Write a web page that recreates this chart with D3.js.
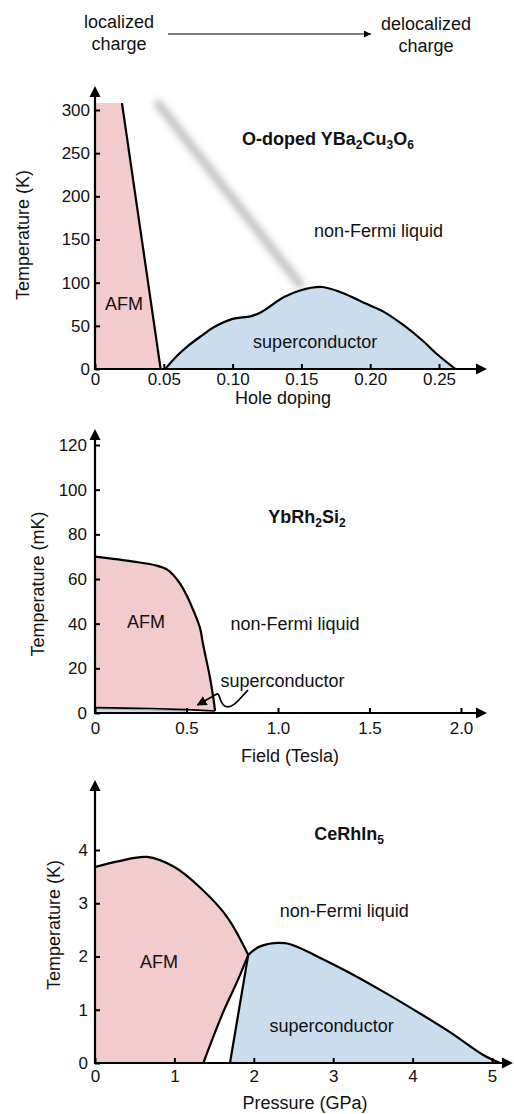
<!DOCTYPE html>
<html>
<head>
<meta charset="utf-8">
<script src="https://cdn.jsdelivr.net/npm/d3@7"></script>
<style>
  html, body { margin: 0; padding: 0; background: #fff; }
  svg { display: block; }
  text { font-family: "Liberation Sans", Arial, Helvetica, sans-serif; fill: #111; }
</style>
</head>
<body>
<svg id="chart" width="514" height="1114"></svg>
<script>
// ---------- data ----------
// Panel A: O-doped YBa2Cu3O6 (hole doping vs temperature, K)
const ybcoXTicks = [0, 0.05, 0.10, 0.15, 0.20, 0.25];
const ybcoXTickLabels = ["0", "0.05", "0.10", "0.15", "0.20", "0.25"];
const ybcoYTicks = [0, 50, 100, 150, 200, 250, 300];
const ybcoAfmTop = 308;
const ybcoAfmEdge = [[0.0196, 308], [0.0477, 0]];
const ybcoScDome = [
  [0.051, 0], [0.060, 16], [0.067, 26], [0.077, 38], [0.086, 48], [0.100, 58],
  [0.113, 61], [0.121, 66], [0.137, 83], [0.149, 91], [0.165, 95], [0.180, 88],
  [0.195, 77], [0.209, 67], [0.224, 51], [0.238, 33], [0.248, 18], [0.262, 0]
];
const ybcoCrossover = [[0.046, 307], [0.149, 98]];

// Panel B: YbRh2Si2 (field vs temperature, mK)
const ybrsXTicks = [0, 0.5, 1.0, 1.5, 2.0];
const ybrsXTickLabels = ["0", "0.5", "1.0", "1.5", "2.0"];
const ybrsYTicks = [0, 20, 40, 60, 80, 100, 120];
const ybrsAfmEdge = [
  [0, 70], [0.21, 67.8], [0.337, 66], [0.393, 64.3], [0.428, 61.8], [0.464, 58],
  [0.50, 52.8], [0.537, 46], [0.574, 38], [0.59, 31], [0.628, 16], [0.648, 6], [0.656, 0.9]
];
const ybrsScEdge = [[0, 2.4], [0.3, 2.0], [0.5, 1.5], [0.656, 0.9]];
const ybrsScFill = [[0, 1.9], [0.25, 1.5], [0.49, 1.0]];
// curly pointer: start, two cubic segments (control, control, end), then arrow tip
const ybrsPointerStart = [0.836, 10.2];
const ybrsPointerCurl = [
  [[0.79, 6.5], [0.76, 2.4], [0.72, 2.8]],
  [[0.68, 3.2], [0.685, 8.8], [0.668, 8.6]]
];
const ybrsPointerTip = [0.56, 3.6];

// Panel C: CeRhIn5 (pressure vs temperature, K)
const cerhXTicks = [0, 1, 2, 3, 4, 5];
const cerhXTickLabels = ["0", "1", "2", "3", "4", "5"];
const cerhYTicks = [0, 1, 2, 3, 4];
const cerhAfmTop = [
  [0, 3.68], [0.3, 3.79], [0.655, 3.87], [1.0, 3.68], [1.32, 3.3], [1.66, 2.75], [1.93, 2.03]
];
const cerhAfmLower = [[1.93, 2.03], [1.80, 1.56], [1.61, 0.94], [1.364, 0]];
const cerhScLeft = [[1.70, 0], [1.93, 2.03]];
const cerhScDome = [
  [1.93, 2.03], [2.08, 2.19], [2.39, 2.25], [2.58, 2.16], [2.80, 2.0], [3.21, 1.69],
  [3.63, 1.34], [4.06, 0.96], [4.47, 0.58], [4.89, 0.15], [5.10, 0]
];

// ---------- styling ----------
const PINK = "#f2cbcd";
const BLUE = "#c9ddef";
const INK = "#000";
const LW = 2.2;
const FS = 18;

const svg = d3.select("#chart");

// arrow markers
const defs = svg.append("defs");
defs.append("marker").attr("id", "headSmall")
  .attr("viewBox", "0 0 10 10").attr("refX", 10).attr("refY", 5)
  .attr("markerWidth", 7).attr("markerHeight", 7).attr("markerUnits", "userSpaceOnUse")
  .attr("orient", "auto")
  .append("path").attr("d", "M0,0 L10,5 L0,10 Z").attr("fill", INK);
defs.append("marker").attr("id", "headPointer")
  .attr("viewBox", "0 0 10 10").attr("refX", 9).attr("refY", 5)
  .attr("markerWidth", 10).attr("markerHeight", 10).attr("markerUnits", "userSpaceOnUse")
  .attr("orient", "auto")
  .append("path").attr("d", "M0,0 L10,5 L0,10 Z").attr("fill", INK);
defs.append("filter").attr("id", "soft").attr("x", "-30%").attr("y", "-30%")
  .attr("width", "160%").attr("height", "160%")
  .append("feGaussianBlur").attr("stdDeviation", 3.6);

const smooth = d3.curveCatmullRom.alpha(0.5);

// ---------- header ----------
const header = svg.append("g");
header.append("text").attr("x", 119).attr("y", 28).attr("text-anchor", "middle")
  .attr("font-size", FS).text("localized");
header.append("text").attr("x", 119).attr("y", 50).attr("text-anchor", "middle")
  .attr("font-size", FS).text("charge");
header.append("text").attr("x", 426).attr("y", 30).attr("text-anchor", "middle")
  .attr("font-size", FS).text("delocalized");
header.append("text").attr("x", 426).attr("y", 52).attr("text-anchor", "middle")
  .attr("font-size", FS).text("charge");
header.append("line").attr("x1", 168).attr("y1", 34).attr("x2", 371).attr("y2", 34)
  .attr("stroke", INK).attr("stroke-width", 1.2).attr("marker-end", "url(#headSmall)");

// ---------- shared axis drawing ----------
function drawAxes(g, x, y, o) {
  const xAxis = d3.axisBottom(x).tickValues(o.xTicks)
    .tickFormat((d, i) => o.xLabels[i]).tickSize(-5).tickPadding(o.xPad);
  const gx = g.append("g").attr("transform", `translate(0,${y(0)})`).call(xAxis);
  const yAxis = d3.axisLeft(y).tickValues(o.yTicks).tickFormat(d3.format("d"))
    .tickSize(-5).tickPadding(o.yPad);
  const gy = g.append("g").attr("transform", `translate(${x(0)},0)`).call(yAxis);
  [gx, gy].forEach(a => {
    a.select(".domain").remove();
    a.selectAll(".tick line").attr("stroke", INK).attr("stroke-width", 2);
    a.selectAll(".tick text").attr("font-size", 17).attr("fill", "#111")
      .style("font-family", '"Liberation Sans", Arial, Helvetica, sans-serif');
  });
  // axis lines ending in filled arrowheads
  const ax = g.append("g");
  ax.append("line").attr("x1", x(0) - 1).attr("y1", y(0)).attr("x2", o.xTip - 10).attr("y2", y(0))
    .attr("stroke", INK).attr("stroke-width", LW);
  ax.append("path")
    .attr("d", `M${o.xTip},${y(0)} L${o.xTip - 11},${y(0) - 5.5} L${o.xTip - 11},${y(0) + 5.5} Z`)
    .attr("fill", INK);
  ax.append("line").attr("x1", x(0)).attr("y1", y(0) + 1).attr("x2", x(0)).attr("y2", o.yTip + 10)
    .attr("stroke", INK).attr("stroke-width", LW);
  ax.append("path")
    .attr("d", `M${x(0)},${o.yTip} L${x(0) - 5.5},${o.yTip + 11} L${x(0) + 5.5},${o.yTip + 11} Z`)
    .attr("fill", INK);
  // axis titles
  g.append("text").attr("x", o.xTitle[0]).attr("y", o.xTitle[1]).attr("text-anchor", "middle")
    .attr("font-size", FS).text(o.xTitleText);
  g.append("text").attr("transform", `translate(${o.yTitle[0]},${o.yTitle[1]}) rotate(-90)`)
    .attr("text-anchor", "middle").attr("dy", "0.35em").attr("font-size", FS).text(o.yTitleText);
}

// bold chemical formula; parts flagged true are set as subscripts
function formula(g, xPos, yPos, parts) {
  const t = g.append("text").attr("x", xPos).attr("y", yPos).attr("text-anchor", "middle")
    .attr("font-size", FS).attr("font-weight", "bold");
  let shift = 0;
  parts.forEach(([s, sub]) => {
    const span = t.append("tspan").text(s);
    if (sub) {
      span.attr("font-size", 12).attr("dy", 4 - shift);
      shift = 4;
    } else {
      span.attr("dy", -shift);
      shift = 0;
    }
  });
}

// ---------- Panel A ----------
{
  const g = svg.append("g");
  const x = d3.scaleLinear().domain([0, 0.25]).range([95, 439]);
  const y = d3.scaleLinear().domain([0, 300]).range([369, 110]);
  const lin = d3.line().x(d => x(d[0])).y(d => y(d[1]));

  // AFM region
  const afmPoly = [[0, 0], [0, ybcoAfmTop], ...ybcoAfmEdge];
  g.append("path").attr("d", lin(afmPoly) + "Z").attr("fill", PINK);

  // crossover band
  g.append("path").attr("d", lin(ybcoCrossover))
    .attr("stroke", "#bdbdbd").attr("stroke-width", 8).attr("stroke-linecap", "round")
    .attr("fill", "none").attr("filter", "url(#soft)");

  // superconducting dome
  const dome = d3.line().x(d => x(d[0])).y(d => y(d[1])).curve(smooth);
  g.append("path").attr("d", dome(ybcoScDome) + "Z").attr("fill", BLUE);
  g.append("path").attr("d", dome(ybcoScDome)).attr("fill", "none")
    .attr("stroke", INK).attr("stroke-width", LW);

  g.append("path").attr("d", lin(ybcoAfmEdge))
    .attr("fill", "none").attr("stroke", INK).attr("stroke-width", LW);

  drawAxes(g, x, y, {
    xTicks: ybcoXTicks, xLabels: ybcoXTickLabels, yTicks: ybcoYTicks,
    xPad: 4, yPad: 5, xTip: 487, yTip: 86,
    xTitle: [283, 404], xTitleText: "Hole doping",
    yTitle: [23, 235], yTitleText: "Temperature (K)"
  });

  g.append("text").attr("x", x(0.021)).attr("y", y(68)).attr("text-anchor", "middle")
    .attr("font-size", FS).text("AFM");
  g.append("text").attr("x", x(0.206)).attr("y", y(153)).attr("text-anchor", "middle")
    .attr("font-size", FS).text("non-Fermi liquid");
  g.append("text").attr("x", x(0.16)).attr("y", y(24)).attr("text-anchor", "middle")
    .attr("font-size", FS).text("superconductor");
  formula(g, 328, 145, [["O-doped YBa"], ["2", true], ["Cu"], ["3", true], ["O"], ["6", true]]);
}

// ---------- Panel B ----------
{
  const g = svg.append("g");
  const x = d3.scaleLinear().domain([0, 2]).range([95, 461]);
  const y = d3.scaleLinear().domain([0, 120]).range([713, 445]);
  const lin = d3.line().x(d => x(d[0])).y(d => y(d[1]));
  const crv = d3.line().x(d => x(d[0])).y(d => y(d[1])).curve(smooth);

  // AFM region: bounded by the ordering line above and the superconducting edge below
  const afmPath = crv(ybrsAfmEdge) + "L" +
    ybrsScEdge.slice().reverse().map(d => `${x(d[0])},${y(d[1])}`).join("L") + "Z";
  g.append("path").attr("d", afmPath).attr("fill", PINK);

  // superconducting sliver
  const scPoly = [[0, 0], ...ybrsScFill, [ybrsScFill[ybrsScFill.length - 1][0], 0]];
  g.append("path").attr("d", lin(scPoly) + "Z").attr("fill", BLUE)
    .attr("stroke", "#7f93a8").attr("stroke-width", 0.8);

  g.append("path").attr("d", crv(ybrsAfmEdge)).attr("fill", "none")
    .attr("stroke", INK).attr("stroke-width", LW);
  g.append("path").attr("d", crv(ybrsScEdge)).attr("fill", "none")
    .attr("stroke", INK).attr("stroke-width", 1.6);

  drawAxes(g, x, y, {
    xTicks: ybrsXTicks, xLabels: ybrsXTickLabels, yTicks: ybrsYTicks,
    xPad: 9, yPad: 8, xTip: 487, yTip: 429,
    xTitle: [290, 762], xTitleText: "Field (Tesla)",
    yTitle: [38, 584], yTitleText: "Temperature (mK)"
  });

  g.append("text").attr("x", x(0.279)).attr("y", y(38)).attr("text-anchor", "middle")
    .attr("font-size", FS).text("AFM");
  g.append("text").attr("x", x(1.093)).attr("y", y(37.2)).attr("text-anchor", "middle")
    .attr("font-size", FS).text("non-Fermi liquid");
  g.append("text").attr("x", x(1.025)).attr("y", y(11.6)).attr("text-anchor", "middle")
    .attr("font-size", FS).text("superconductor");
  formula(g, 307, 523, [["YbRh"], ["2", true], ["Si"], ["2", true]]);

  // curly pointer to the superconducting sliver
  const p = d3.path();
  p.moveTo(x(ybrsPointerStart[0]), y(ybrsPointerStart[1]));
  ybrsPointerCurl.forEach(([c1, c2, e]) =>
    p.bezierCurveTo(x(c1[0]), y(c1[1]), x(c2[0]), y(c2[1]), x(e[0]), y(e[1])));
  p.lineTo(x(ybrsPointerTip[0]), y(ybrsPointerTip[1]));
  g.append("path").attr("d", p.toString())
    .attr("fill", "none").attr("stroke", INK).attr("stroke-width", 1.7)
    .attr("stroke-linejoin", "round").attr("marker-end", "url(#headPointer)");
}

// ---------- Panel C ----------
{
  const g = svg.append("g");
  const x = d3.scaleLinear().domain([0, 5]).range([95, 492]);
  const y = d3.scaleLinear().domain([0, 4]).range([1063, 850]);
  const lin = d3.line().x(d => x(d[0])).y(d => y(d[1]));
  const crv = d3.line().x(d => x(d[0])).y(d => y(d[1])).curve(smooth);

  // AFM region
  const afmPath = `M${x(0)},${y(0)}L` + crv(cerhAfmTop).slice(1) + "L" +
    crv(cerhAfmLower).slice(1) + "Z";
  g.append("path").attr("d", afmPath).attr("fill", PINK);

  // superconducting region
  const scPath = lin(cerhScLeft) + "L" + crv(cerhScDome).slice(1) + "Z";
  g.append("path").attr("d", scPath).attr("fill", BLUE);

  g.append("path").attr("d", crv(cerhAfmTop)).attr("fill", "none").attr("stroke", INK).attr("stroke-width", LW);
  g.append("path").attr("d", crv(cerhAfmLower)).attr("fill", "none").attr("stroke", INK).attr("stroke-width", LW);
  g.append("path").attr("d", lin(cerhScLeft)).attr("fill", "none").attr("stroke", INK).attr("stroke-width", LW);
  g.append("path").attr("d", crv(cerhScDome)).attr("fill", "none").attr("stroke", INK).attr("stroke-width", LW);

  drawAxes(g, x, y, {
    xTicks: cerhXTicks, xLabels: cerhXTickLabels, yTicks: cerhYTicks,
    xPad: 7, yPad: 7, xTip: 513, yTip: 780,
    xTitle: [305, 1109], xTitleText: "Pressure (GPa)",
    yTitle: [54, 925], yTitleText: "Temperature (K)"
  });

  g.append("text").attr("x", x(0.806)).attr("y", y(1.78)).attr("text-anchor", "middle")
    .attr("font-size", FS).text("AFM");
  g.append("text").attr("x", x(3.14)).attr("y", y(2.74)).attr("text-anchor", "middle")
    .attr("font-size", FS).text("non-Fermi liquid");
  g.append("text").attr("x", x(2.98)).attr("y", y(0.58)).attr("text-anchor", "middle")
    .attr("font-size", FS).text("superconductor");
  formula(g, 349, 840, [["CeRhIn"], ["5", true]]);
}
</script>
</body>
</html>
